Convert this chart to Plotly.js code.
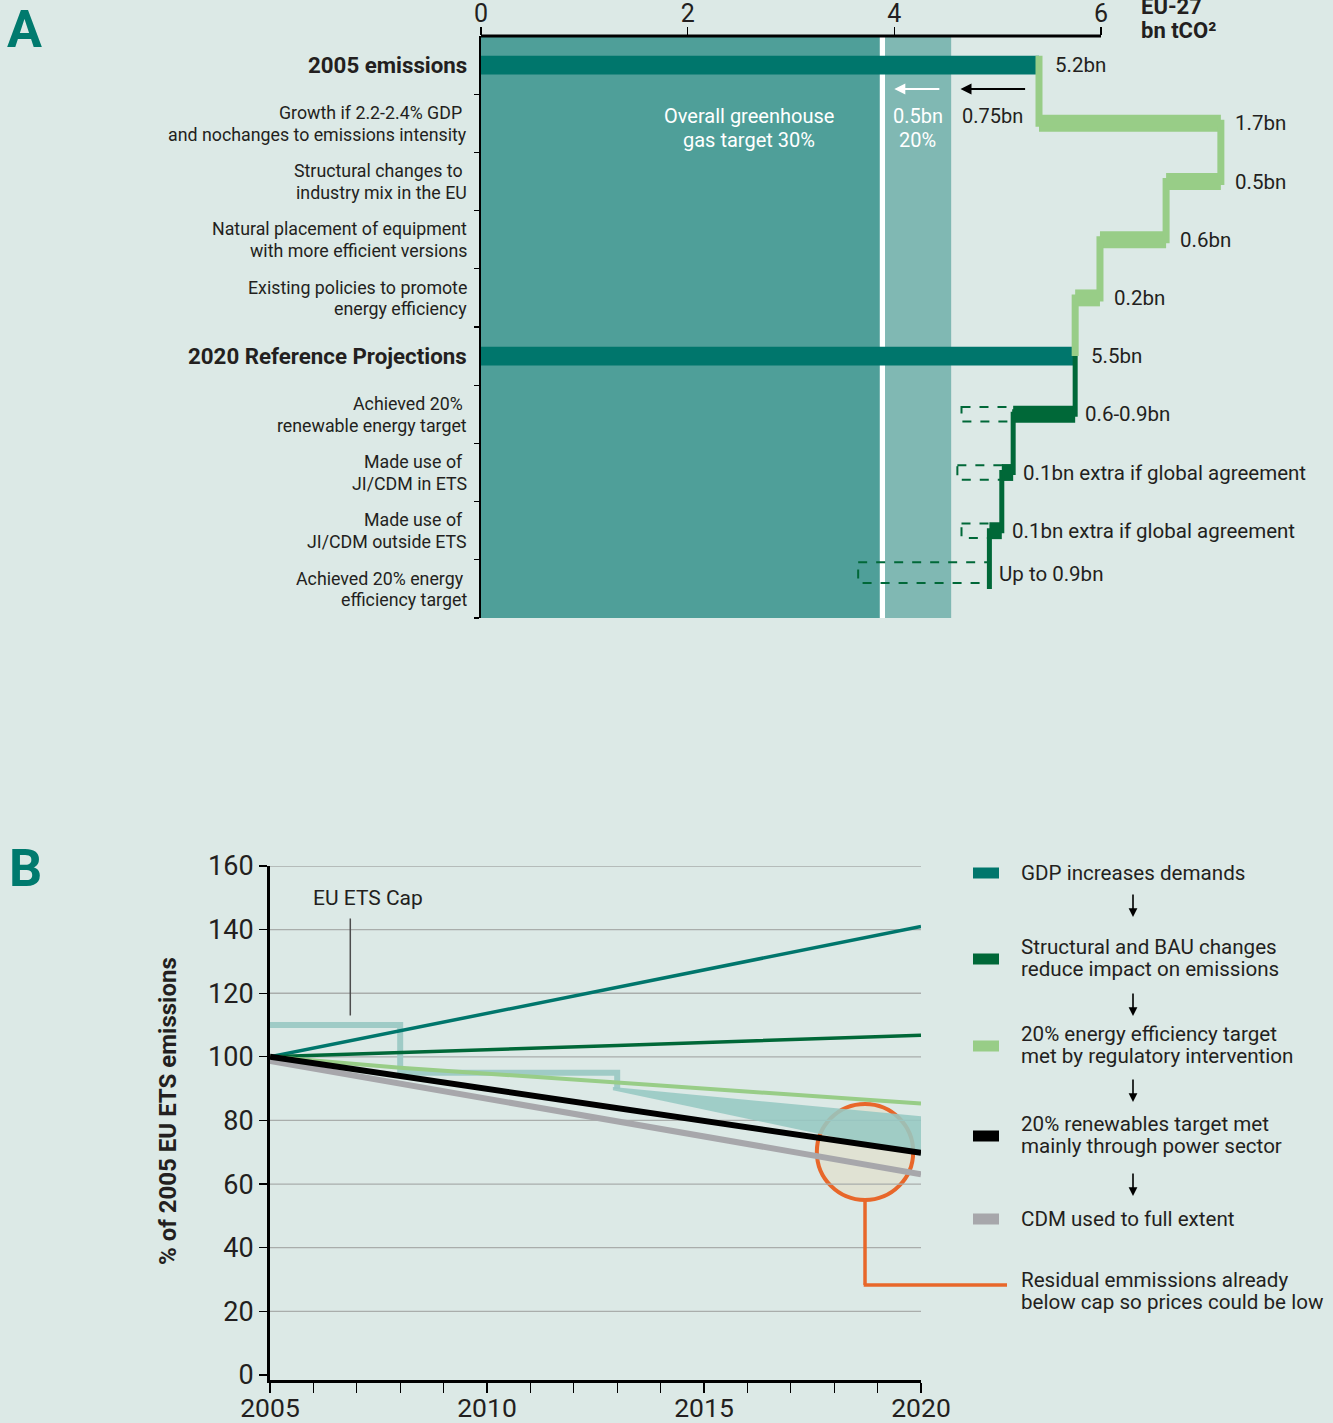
<!DOCTYPE html>
<html><head><meta charset="utf-8">
<script src="https://cdn.plot.ly/plotly-3.0.1.min.js"></script>
<style>html,body{margin:0;padding:0;background:#dce9e6;} #chart{width:1333px;height:1423px;}</style>
</head><body><div id="chart"></div>
<script>
// ---------------- Panel A data (bn tCO2, EU-27) ----------------
const rowLabels = [
  ['2005 emissions'],
  ['Growth if 2.2-2.4% GDP\u00a0', 'and nochanges to emissions intensity'],
  ['Structural changes to\u00a0', 'industry mix in the EU'],
  ['Natural placement of equipment', 'with more efficient versions'],
  ['Existing policies to promote', 'energy efficiency'],
  ['2020 Reference Projections'],
  ['Achieved 20%\u00a0', 'renewable energy target'],
  ['Made use of\u00a0', 'JI/CDM in ETS'],
  ['Made use of\u00a0', 'JI/CDM outside ETS'],
  ['Achieved 20% energy\u00a0', 'efficiency target']
];
const totalRows = [0, 5];
const totalValues = [5.40, 5.75];
const totalLabels = ['5.2bn', '5.5bn'];
const growthRows = [1, 2, 3, 4];
const growthLevels = [7.16, 6.63, 5.99, 5.75];
const growthLabels = ['1.7bn', '0.5bn', '0.6bn', '0.2bn'];
const cutRows = [6, 7, 8, 9];
const cutLevels = [5.15, 5.04, 4.92, 4.92];
const cutRangeLevels = [4.65, 4.61, 4.65, 3.65];
const cutLabels = ['0.6-0.9bn', '0.1bn extra if global agreement', '0.1bn extra if global agreement', 'Up to 0.9bn'];
const target30 = 3.86, target20 = 4.55;
const target30Label = ['Overall greenhouse', 'gas target 30%'];
const target20Label = ['0.5bn', '20%'];
const extraLabel = '0.75bn';
const arrow20 = [4.45, 4.00];
const arrow75 = [5.28, 4.64];
const xTicksA = [0, 2, 4, 6];

// ---------------- Panel B data (% of 2005 EU ETS emissions) ----------------
const years = [2005, 2008, 2013, 2020];
const gdp = [100, 108.2, 121.9, 141];
const structural = [100, 101.3, 103.6, 106.8];
const efficiency = [100, 96.6, 91.9, 85.3];
const renewables = [100, 94, 84, 69.8];
const cdm = [98.7, 91.6, 79.8, 63.1];
const capYears = [2005, 2008, 2008, 2013, 2013];
const capValues = [110, 110, 95, 95, 90];
const gapYears = [2012.9, 2020, 2020, 2012.9];
const gapValues = [90.5, 81.3, 69, 89.5];
const xTicksB = [2005,2006,2007,2008,2009,2010,2011,2012,2013,2014,2015,2016,2017,2018,2019,2020];
const yTicksB = [0, 20, 40, 60, 80, 100, 120, 140, 160];
const legendNames = [
  ['GDP increases demands'],
  ['Structural and BAU changes', 'reduce impact on emissions'],
  ['20% energy efficiency target', 'met by regulatory intervention'],
  ['20% renewables target met', 'mainly through power sector'],
  ['CDM used to full extent']
];
const residualNote = ['Residual emmissions already', 'below cap so prices could be low'];
const circleCentre = [2018.71, 70.1];
const circleRadius = [1.11, 15.1];
const noteLevel = 28.3;

// ---------------- styling ----------------
const W = 1333, H = 1423;
const px = v => v / W;
const py = v => 1 - v / H;
const FONT = 'Roboto, "Open Sans", sans-serif';
const INK = '#231f20';
const BG = '#dce9e6';
const COL = {
  teal: '#00766c', band: '#4f9f99', bandLight: '#80b8b3', light: '#98cd87',
  dark: '#006838', gray: '#a7a7ab', cap: '#9fcbc6', orange: '#e8672a', black: '#000000'
};
const seriesColors = [COL.teal, COL.dark, COL.light, COL.black, COL.gray];

const xDomA = [481 / W, 1];
const xRangeA = [0, (W - 481) / ((1101 - 481) / 6)];
const yDomA = [py(618), py(36)];
const xDomB = [270 / W, 921 / W];
const yDomB = [py(1380), py(866)];
const xRangeB = [2005, 2020];

const traces = [];
const shapes = [];
const annotations = [];

function textLines(lines, opts, spacing) {
  const n = lines.length;
  lines.forEach((t, i) => {
    const off = (i - (n - 1) / 2) * spacing;
    annotations.push(Object.assign({}, opts, {text: t, showarrow: false,
      yshift: (opts.yshift || 0) - off}));
  });
}

// ---- Panel A target bands ----
shapes.push({type: 'rect', xref: 'x', yref: 'y', x0: 0, x1: target30, y0: -0.5, y1: 9.5,
  fillcolor: COL.band, line: {width: 0}, layer: 'below'});
shapes.push({type: 'rect', xref: 'x', yref: 'y', x0: target30, x1: target30 + 0.05, y0: -0.5, y1: 9.5,
  fillcolor: '#ffffff', line: {width: 0}, layer: 'below'});
shapes.push({type: 'rect', xref: 'x', yref: 'y', x0: target30 + 0.05, x1: target20, y0: -0.5, y1: 9.5,
  fillcolor: COL.bandLight, line: {width: 0}, layer: 'below'});

// ---- Panel A bars ----
traces.push({type: 'bar', orientation: 'h', xaxis: 'x', yaxis: 'y', y: totalRows, x: totalValues,
  base: 0, width: 0.32, marker: {color: COL.teal, line: {width: 0}}, hoverinfo: 'skip', showlegend: false});
const growthFrom = [totalValues[0]].concat(growthLevels.slice(0, -1));
traces.push({type: 'bar', orientation: 'h', xaxis: 'x', yaxis: 'y', y: growthRows,
  base: growthFrom, x: growthLevels.map((v, i) => v - growthFrom[i]),
  width: 0.29, marker: {color: COL.light, line: {width: 0}}, hoverinfo: 'skip', showlegend: false});
const cutFrom = [totalValues[1]].concat(cutLevels.slice(0, -1));
traces.push({type: 'bar', orientation: 'h', xaxis: 'x', yaxis: 'y', y: cutRows,
  base: cutFrom, x: cutLevels.map((v, i) => v - cutFrom[i]),
  width: 0.29, marker: {color: COL.dark, line: {width: 0}}, hoverinfo: 'skip', showlegend: false});

// connectors
const gx = [totalValues[0], totalValues[0]], gy = [totalRows[0] - 0.16, growthRows[0]];
growthRows.forEach((r, i) => {
  gx.push(growthLevels[i]); gy.push(r);
  gx.push(growthLevels[i]); gy.push(i < growthRows.length - 1 ? growthRows[i + 1] : totalRows[1]);
});
traces.push({type: 'scatter', mode: 'lines', xaxis: 'x', yaxis: 'y', x: gx, y: gy,
  line: {color: COL.light, width: 7}, hoverinfo: 'skip', showlegend: false});
const dx = [totalValues[1], totalValues[1]], dy = [totalRows[1], cutRows[0]];
cutRows.forEach((r, i) => {
  dx.push(cutLevels[i]); dy.push(r);
  dx.push(cutLevels[i]); dy.push(i < cutRows.length - 1 ? cutRows[i + 1] : r - 0.07);
});
traces.push({type: 'scatter', mode: 'lines', xaxis: 'x', yaxis: 'y', x: dx, y: dy,
  line: {color: COL.dark, width: 5}, hoverinfo: 'skip', showlegend: false});

// dashed range boxes
cutRows.forEach((r, i) => {
  const last = i === cutRows.length - 1;
  const yc = last ? r - 0.28 : r;
  const hh = last ? 0.18 : 0.125;
  shapes.push({type: 'rect', xref: 'x', yref: 'y', x0: cutRangeLevels[i], x1: cutLevels[i],
    y0: yc - hh, y1: yc + hh, line: {color: COL.dark, width: 2, dash: 'dash'},
    fillcolor: 'rgba(0,0,0,0)', layer: 'above'});
});

// top axis line (0..6)
shapes.push({type: 'line', xref: 'x', yref: 'paper', x0: 0, x1: xTicksA[xTicksA.length - 1],
  y0: py(36), y1: py(36), line: {color: '#000', width: 3}, layer: 'above'});

// row labels
rowLabels.forEach((lines, i) => {
  const bold = totalRows.includes(i);
  textLines(lines.map(t => bold ? '<b>' + t + '</b>' : t), {
    xref: 'x', yref: 'y', x: 0, y: i, xanchor: 'right', yanchor: 'middle', xshift: -12,
    font: {family: FONT, size: bold ? 22.3 : 17.8, color: INK}
  }, 21.5);
});

// value labels
const valFont = {family: FONT, size: 20.5, color: INK};
totalRows.forEach((r, i) => annotations.push({xref: 'x', yref: 'y', x: totalValues[i], y: r,
  text: totalLabels[i], showarrow: false, xanchor: 'left', xshift: 14, font: valFont}));
growthRows.forEach((r, i) => annotations.push({xref: 'x', yref: 'y', x: Math.max(growthFrom[i], growthLevels[i]), y: r,
  text: growthLabels[i], showarrow: false, xanchor: 'left', xshift: 12, font: valFont}));
cutRows.forEach((r, i) => annotations.push({xref: 'x', yref: 'y', x: Math.max(cutFrom[i], cutLevels[i]), y: i === cutRows.length - 1 ? r - 0.25 : r,
  text: cutLabels[i], showarrow: false, xanchor: 'left', xshift: 8, font: valFont}));

// target labels & arrows
textLines(target30Label, {xref: 'x', yref: 'y', x: 2.59, y: 1, xanchor: 'center', yshift: -5,
  font: {family: FONT, size: 20, color: '#ffffff'}}, 24);
textLines(target20Label, {xref: 'x', yref: 'y', x: (target30 + target20) / 2 + 0.02, y: 1, xanchor: 'center', yshift: -5,
  font: {family: FONT, size: 20, color: '#ffffff'}}, 24);
annotations.push({xref: 'x', yref: 'y', x: arrow75[1] + 0.31, y: 1, yshift: 7, text: extraLabel,
  showarrow: false, xanchor: 'center', font: {family: FONT, size: 20, color: INK}});
annotations.push({xref: 'x', yref: 'y', axref: 'x', ayref: 'y', x: arrow20[1], y: 0.41, ax: arrow20[0], ay: 0.41,
  text: '', showarrow: true, arrowhead: 2, arrowsize: 1.1, arrowwidth: 2, arrowcolor: '#ffffff'});
annotations.push({xref: 'x', yref: 'y', axref: 'x', ayref: 'y', x: arrow75[1], y: 0.41, ax: arrow75[0], ay: 0.41,
  text: '', showarrow: true, arrowhead: 2, arrowsize: 1.1, arrowwidth: 2, arrowcolor: '#000000'});

// panel letters / unit
annotations.push({xref: 'paper', yref: 'paper', x: px(24), y: py(29), text: '<b>A</b>', showarrow: false,
  xanchor: 'center', yanchor: 'middle', font: {family: FONT, size: 52, color: '#007a6e'}});
annotations.push({xref: 'paper', yref: 'paper', x: px(25), y: py(869), text: '<b>B</b>', showarrow: false,
  xanchor: 'center', yanchor: 'middle', font: {family: FONT, size: 52, color: '#007a6e'}});
annotations.push({xref: 'paper', yref: 'paper', x: px(1139), y: py(6), text: '<b>EU-27</b>', showarrow: false,
  xanchor: 'left', yanchor: 'middle', font: {family: FONT, size: 22, color: INK}});
annotations.push({xref: 'paper', yref: 'paper', x: px(1139), y: py(30), text: '<b>bn tCO\u00b2</b>', showarrow: false,
  xanchor: 'left', yanchor: 'middle', font: {family: FONT, size: 22, color: INK}});

// ---------------- Panel B ----------------
shapes.push({type: 'circle', xref: 'x2', yref: 'y2',
  x0: circleCentre[0] - circleRadius[0], x1: circleCentre[0] + circleRadius[0],
  y0: circleCentre[1] - circleRadius[1], y1: circleCentre[1] + circleRadius[1],
  fillcolor: '#e0e2d3', line: {color: COL.orange, width: 4}, layer: 'below'});
yTicksB.filter(v => v > 0).forEach(v => shapes.push({type: 'line', xref: 'x2', yref: 'y2',
  x0: xRangeB[0], x1: xRangeB[1], y0: v, y1: v, line: {color: '#a9adab', width: 1.3}, layer: 'below'}));

traces.push({type: 'scatter', mode: 'lines', xaxis: 'x2', yaxis: 'y2', x: capYears, y: capValues,
  line: {color: COL.cap, width: 6}, hoverinfo: 'skip', showlegend: false});
traces.push({type: 'scatter', mode: 'lines', xaxis: 'x2', yaxis: 'y2', x: gapYears, y: gapValues,
  fill: 'toself', fillcolor: 'rgba(150,200,195,0.88)', line: {width: 0}, hoverinfo: 'skip', showlegend: false});
const series = [gdp, structural, efficiency, cdm, renewables];
const seriesCol = [COL.teal, COL.dark, COL.light, COL.gray, COL.black];
const seriesW = [3.5, 3.5, 4, 6, 6];
series.forEach((s, i) => traces.push({type: 'scatter', mode: 'lines', xaxis: 'x2', yaxis: 'y2',
  x: years, y: s, line: {color: seriesCol[i], width: seriesW[i]}, hoverinfo: 'skip', showlegend: false}));

// EU ETS cap label
annotations.push({xref: 'x2', yref: 'y2', x: 2007.25, y: 150, text: 'EU ETS Cap', showarrow: false,
  xanchor: 'center', yanchor: 'middle', font: {family: FONT, size: 21, color: INK}});
shapes.push({type: 'line', xref: 'x2', yref: 'y2', x0: 2006.85, x1: 2006.85, y0: 113, y1: 143.5,
  line: {color: '#4d4d4d', width: 1.5}, layer: 'above'});

// orange connector to note
shapes.push({type: 'line', xref: 'x2', yref: 'y2', x0: circleCentre[0], x1: circleCentre[0],
  y0: circleCentre[1] - circleRadius[1], y1: noteLevel, line: {color: COL.orange, width: 3.5}, layer: 'above'});
const cxPaper = xDomB[0] + (circleCentre[0] - xRangeB[0]) / (xRangeB[1] - xRangeB[0]) * (xDomB[1] - xDomB[0]);
shapes.push({type: 'line', xref: 'paper', yref: 'y2', x0: cxPaper - 0.001, x1: px(1007),
  y0: noteLevel, y1: noteLevel, line: {color: COL.orange, width: 3.5}, layer: 'above'});

// y title
annotations.push({xref: 'paper', yref: 'paper', x: px(168), y: py(1111), text: '<b>% of 2005 EU ETS emissions</b>',
  textangle: -90, showarrow: false, xanchor: 'center', yanchor: 'middle', font: {family: FONT, size: 24, color: INK}});

// custom legend
const legRectY = [873, 959, 1046, 1136, 1219];
const legArrowY = [893, 992, 1078, 1172];
legendNames.forEach((lines, i) => {
  shapes.push({type: 'rect', xref: 'paper', yref: 'paper', x0: px(973), x1: px(999),
    y0: py(legRectY[i] + 5.5), y1: py(legRectY[i] - 5.5), fillcolor: seriesColors[i], line: {width: 0}, layer: 'above'});
  textLines(lines, {xref: 'paper', yref: 'paper', x: px(1019), y: py(legRectY[i] + (lines.length > 1 ? -1 : 0)),
    xanchor: 'left', yanchor: 'middle', font: {family: FONT, size: 20.6, color: INK}}, 22);
});
legArrowY.forEach(y => annotations.push({xref: 'paper', yref: 'paper', x: px(1133), y: py(y + 24),
  ax: 0, ay: -24, text: '', showarrow: true, arrowhead: 2, arrowsize: 1.1, arrowwidth: 1.6, arrowcolor: '#000'}));
textLines(residualNote, {xref: 'paper', yref: 'paper', x: px(1019), y: py(1290.5),
  xanchor: 'left', yanchor: 'middle', font: {family: FONT, size: 20.6, color: INK}}, 22);

const layout = {
  width: W, height: H, margin: {l: 0, r: 0, t: 0, b: 0},
  paper_bgcolor: BG, plot_bgcolor: 'rgba(0,0,0,0)', showlegend: false, barmode: 'overlay',
  font: {family: FONT, color: INK},
  xaxis: {domain: xDomA, range: xRangeA, anchor: 'y', side: 'top', tickmode: 'array', tickvals: xTicksA,
    ticks: 'outside', ticklen: 8, tickwidth: 1.3, tickcolor: '#000', showline: false, showgrid: false, zeroline: false,
    tickfont: {family: FONT, size: 25, color: INK}, ticklabelstandoff: -5, fixedrange: true},
  yaxis: {domain: yDomA, range: [9.5, -0.5], anchor: 'x', tickmode: 'array',
    tickvals: [0.5, 1.5, 2.5, 3.5, 4.5, 5.5, 6.5, 7.5, 8.5, 9.5], showticklabels: false,
    ticks: 'outside', ticklen: 5, tickwidth: 1.3, tickcolor: '#000', showline: true, linecolor: '#000', linewidth: 2.5,
    showgrid: false, zeroline: false, fixedrange: true},
  xaxis2: {domain: xDomB, range: xRangeB, anchor: 'y2', tickmode: 'array', tickvals: xTicksB,
    ticktext: xTicksB.map(v => v % 5 === 0 ? String(v) : ''), ticks: 'outside', ticklen: 10, tickwidth: 1.3,
    tickcolor: '#000', showline: true, linecolor: '#000', linewidth: 3, showgrid: false, zeroline: false,
    tickfont: {family: FONT, size: 26.5, color: INK}, ticklabelstandoff: -8, fixedrange: true},
  yaxis2: {domain: yDomB, range: [-1.6, 160], anchor: 'x2', tickmode: 'array', tickvals: yTicksB,
    ticks: 'outside', ticklen: 8, tickwidth: 1.3, tickcolor: '#000', showline: true, linecolor: '#000', linewidth: 3,
    showgrid: false, zeroline: false, tickfont: {family: FONT, size: 27, color: INK}, fixedrange: true},
  shapes: shapes, annotations: annotations
};
Plotly.newPlot('chart', traces, layout, {staticPlot: true, displayModeBar: false});
</script></body></html>
